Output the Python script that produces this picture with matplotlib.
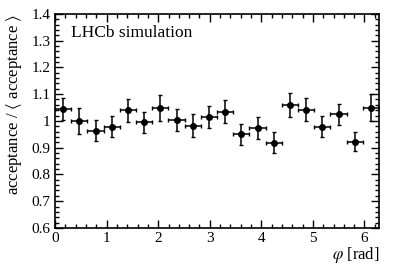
import numpy as np
import matplotlib
matplotlib.use('Agg')
import matplotlib.pyplot as plt
from matplotlib.ticker import MultipleLocator, FormatStrFormatter

plt.rcParams['font.family'] = ['Liberation Serif', 'DejaVu Serif']
plt.rcParams['mathtext.fontset'] = 'stix'
plt.rcParams['font.size'] = 10

# 20 bins in phi from 0 to 2pi
n_bins = 20
edges = np.linspace(0, 2*np.pi, n_bins + 1)
phi = 0.5*(edges[1:] + edges[:-1])
phi_err = 0.5*(edges[1:] - edges[:-1])

acc = [1.044, 0.999, 0.964, 0.978, 1.040, 0.995, 1.047, 1.003, 0.982, 1.014,
       1.034, 0.950, 0.974, 0.918, 1.061, 1.042, 0.978, 1.024, 0.923, 1.050]
acc_err = [0.040, 0.049, 0.040, 0.039, 0.043, 0.040, 0.048, 0.040, 0.043, 0.041,
           0.043, 0.039, 0.041, 0.039, 0.045, 0.042, 0.039, 0.040, 0.036, 0.049]

fig = plt.figure(figsize=(3.99, 2.72), dpi=100)
ax = fig.add_axes([0.138, 0.162, 0.812, 0.787])

ax.errorbar(phi, acc, xerr=phi_err, yerr=acc_err, fmt='o', color='black',
            ms=4, elinewidth=1.1, capsize=1.2, capthick=1.0)

ax.set_xlim(0, 2*np.pi)
ax.set_ylim(0.6, 1.4)
ax.xaxis.set_major_locator(MultipleLocator(1))
ax.xaxis.set_minor_locator(MultipleLocator(0.2))
ax.yaxis.set_major_locator(MultipleLocator(0.1))
ax.yaxis.set_minor_locator(MultipleLocator(0.02))
ax.yaxis.set_major_formatter(FormatStrFormatter('%g'))
ax.tick_params(which='both', direction='in', top=True, right=True, labelsize=11, width=1)
ax.tick_params(which='major', length=6)
ax.tick_params(which='minor', length=3)
ax.tick_params(axis='x', pad=3)
for s in ax.spines.values():
    s.set_linewidth(1.2)

ax.set_xlabel(r'$\varphi$ [rad]', fontsize=12, loc='right', labelpad=0)
ax.set_ylabel(r'acceptance / $\langle$ acceptance $\rangle$', fontsize=12, loc='top', labelpad=5)
ax.text(0.05, 0.91, 'LHCb simulation', transform=ax.transAxes, fontsize=12.5,
        va='center', ha='left')

plt.savefig('out.png', dpi=100)
